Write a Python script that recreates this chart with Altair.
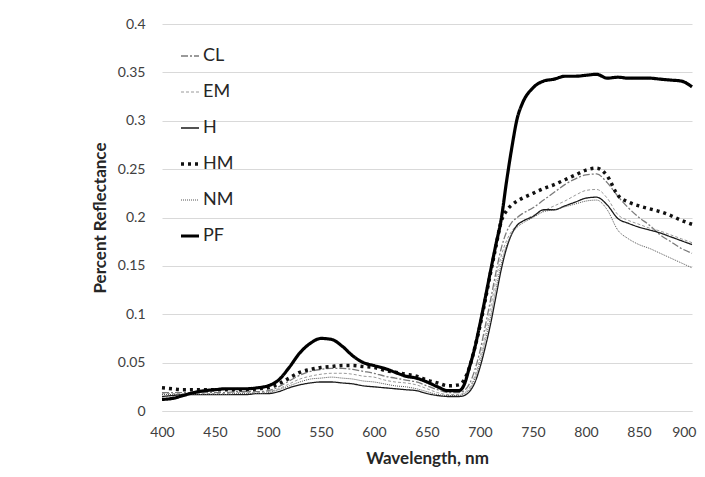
import altair as alt
import pandas as pd

wavelength = [400, 410, 420, 430, 440, 450, 460, 470, 480, 490, 500, 510, 520, 530, 540, 550, 560, 570, 580, 590,
              600, 610, 620, 630, 640, 650, 660, 670, 680, 685, 690, 695, 700, 705, 710, 715, 720, 725, 730, 735,
              740, 750, 760, 770, 780, 790, 800, 810, 820, 830, 840, 850, 860, 870, 880, 890, 900]

CL = [0.019, 0.019, 0.019, 0.019, 0.019, 0.019, 0.019, 0.020, 0.020, 0.020, 0.021, 0.025, 0.031, 0.037, 0.041, 0.043, 0.044, 0.044, 0.043, 0.041,
      0.039, 0.036, 0.034, 0.032, 0.030, 0.026, 0.022, 0.019, 0.019, 0.021, 0.028, 0.042, 0.062, 0.088, 0.115, 0.143, 0.168, 0.185, 0.195, 0.200,
      0.204, 0.210, 0.218, 0.226, 0.234, 0.240, 0.244, 0.245, 0.236, 0.222, 0.210, 0.200, 0.192, 0.182, 0.175, 0.168, 0.163]
EM = [0.018, 0.018, 0.018, 0.018, 0.018, 0.018, 0.018, 0.019, 0.019, 0.019, 0.020, 0.023, 0.028, 0.033, 0.036, 0.038, 0.039, 0.039, 0.038, 0.036,
      0.035, 0.032, 0.030, 0.029, 0.027, 0.023, 0.019, 0.017, 0.017, 0.019, 0.024, 0.036, 0.055, 0.080, 0.107, 0.135, 0.160, 0.176, 0.186, 0.192,
      0.196, 0.202, 0.207, 0.212, 0.217, 0.223, 0.228, 0.229, 0.220, 0.203, 0.197, 0.193, 0.189, 0.186, 0.182, 0.178, 0.174]
H = [0.015, 0.016, 0.017, 0.017, 0.017, 0.017, 0.017, 0.017, 0.017, 0.018, 0.018, 0.020, 0.024, 0.027, 0.029, 0.030, 0.030, 0.029, 0.028, 0.026,
     0.025, 0.024, 0.023, 0.022, 0.021, 0.018, 0.016, 0.015, 0.015, 0.016, 0.020, 0.029, 0.045, 0.066, 0.090, 0.118, 0.146, 0.168, 0.183, 0.192,
     0.196, 0.201, 0.208, 0.208, 0.212, 0.216, 0.220, 0.221, 0.213, 0.199, 0.194, 0.190, 0.187, 0.184, 0.180, 0.176, 0.172]
HM = [0.024, 0.023, 0.022, 0.022, 0.022, 0.022, 0.022, 0.022, 0.022, 0.023, 0.024, 0.028, 0.034, 0.040, 0.043, 0.045, 0.046, 0.047, 0.047, 0.046,
      0.045, 0.042, 0.040, 0.038, 0.036, 0.032, 0.029, 0.026, 0.027, 0.032, 0.045, 0.065, 0.088, 0.115, 0.143, 0.170, 0.196, 0.207, 0.213, 0.217,
      0.220, 0.225, 0.230, 0.234, 0.239, 0.244, 0.249, 0.251, 0.243, 0.223, 0.216, 0.212, 0.209, 0.206, 0.202, 0.197, 0.193]
NM = [0.017, 0.017, 0.017, 0.017, 0.017, 0.017, 0.017, 0.018, 0.018, 0.018, 0.019, 0.022, 0.026, 0.030, 0.033, 0.034, 0.035, 0.034, 0.033, 0.031,
      0.030, 0.028, 0.026, 0.025, 0.023, 0.020, 0.017, 0.016, 0.016, 0.018, 0.022, 0.033, 0.050, 0.073, 0.098, 0.126, 0.152, 0.171, 0.183, 0.190,
      0.194, 0.200, 0.206, 0.208, 0.211, 0.214, 0.217, 0.218, 0.208, 0.187, 0.178, 0.172, 0.168, 0.163, 0.158, 0.153, 0.148]
PF = [0.012, 0.013, 0.016, 0.019, 0.021, 0.022, 0.023, 0.023, 0.023, 0.024, 0.026, 0.032, 0.045, 0.060, 0.070, 0.075, 0.074, 0.067, 0.057, 0.050,
      0.047, 0.044, 0.040, 0.036, 0.034, 0.030, 0.025, 0.021, 0.021, 0.027, 0.045, 0.065, 0.090, 0.117, 0.145, 0.172, 0.198, 0.237, 0.272, 0.302,
      0.318, 0.334, 0.341, 0.343, 0.346, 0.346, 0.347, 0.348, 0.344, 0.345, 0.344, 0.344, 0.344, 0.343, 0.342, 0.341, 0.335]

series_names = ["CL", "EM", "H", "HM", "NM", "PF"]
series_values = [CL, EM, H, HM, NM, PF]

rows = []
for name, vals in zip(series_names, series_values):
    for w, v in zip(wavelength, vals):
        rows.append({"Wavelength": w, "Reflectance": v, "Series": name})
df = pd.DataFrame(rows)

x_ticks = [400, 450, 500, 550, 600, 650, 700, 750, 800, 850, 900]
y_ticks = [0, 0.05, 0.1, 0.15, 0.2, 0.25, 0.3, 0.35, 0.4]

colors = ["#7a7a7a", "#9a9a9a", "#1a1a1a", "#111111", "#555555", "#000000"]
dashes = [[7, 2, 2, 2], [3, 2], [1, 0], [3, 4], [1, 1], [1, 0]]
widths = [1.3, 1.0, 1.3, 3.5, 1.0, 3.2]


def width_expr(ref):
    parts = [f"{ref} == '{n}' ? {w}" for n, w in zip(series_names, widths)]
    return " : ".join(parts) + " : 1"


font = "Lato"

legend = alt.Legend(title=None, orient="none", legendX=19, legendY=23,
                    symbolType="stroke", symbolSize=324, labelFontSize=18,
                    labelColor="#262626", labelOffset=4, rowPadding=18,
                    padding=0, labelFont=font,
                    symbolStrokeWidth={"expr": width_expr("datum.value")})

chart = alt.Chart(df).transform_calculate(
    lw=width_expr("datum.Series")
).mark_line(interpolate="monotone").encode(
    x=alt.X("Wavelength:Q",
            scale=alt.Scale(domain=[400, 900], nice=False, zero=False),
            axis=alt.Axis(title="Wavelength, nm", values=x_ticks, grid=False, ticks=False,
                          domain=True, domainColor="#d9d9d9", labelPadding=14, titlePadding=11,
                          labelFlush=False, labelFontSize=14, titleFontSize=17, labelColor="#404040",
                          titleColor="#262626", titleFontWeight="bold",
                          labelAlign={"condition": {"test": "datum.value == 900", "value": "right"},
                                      "value": "center"},
                          labelOffset={"condition": {"test": "datum.value == 900", "value": 4},
                                       "value": 0})),
    y=alt.Y("Reflectance:Q",
            scale=alt.Scale(domain=[0, 0.4], nice=False),
            axis=alt.Axis(title="Percent Reflectance", values=y_ticks, format="~g", grid=True,
                          gridColor="#d9d9d9", ticks=False, domain=False, labelPadding=17,
                          titlePadding=8, labelFontSize=14, titleFontSize=17, labelColor="#404040",
                          titleColor="#262626", titleFontWeight="bold")),
    color=alt.Color("Series:N", scale=alt.Scale(domain=series_names, range=colors), legend=legend),
    strokeDash=alt.StrokeDash("Series:N", scale=alt.Scale(domain=series_names, range=dashes), legend=legend),
    strokeWidth=alt.StrokeWidth("lw:Q", scale=None, legend=None),
).properties(
    width=530,
    height=387,
    autosize=alt.AutoSizeParams(type="none"),
    padding={"left": 154, "top": 16, "right": 5, "bottom": 58},
).configure(
    font=font,
).configure_view(
    stroke=None,
)

chart.save("out.html", embed_options={"renderer": "svg", "actions": False})
